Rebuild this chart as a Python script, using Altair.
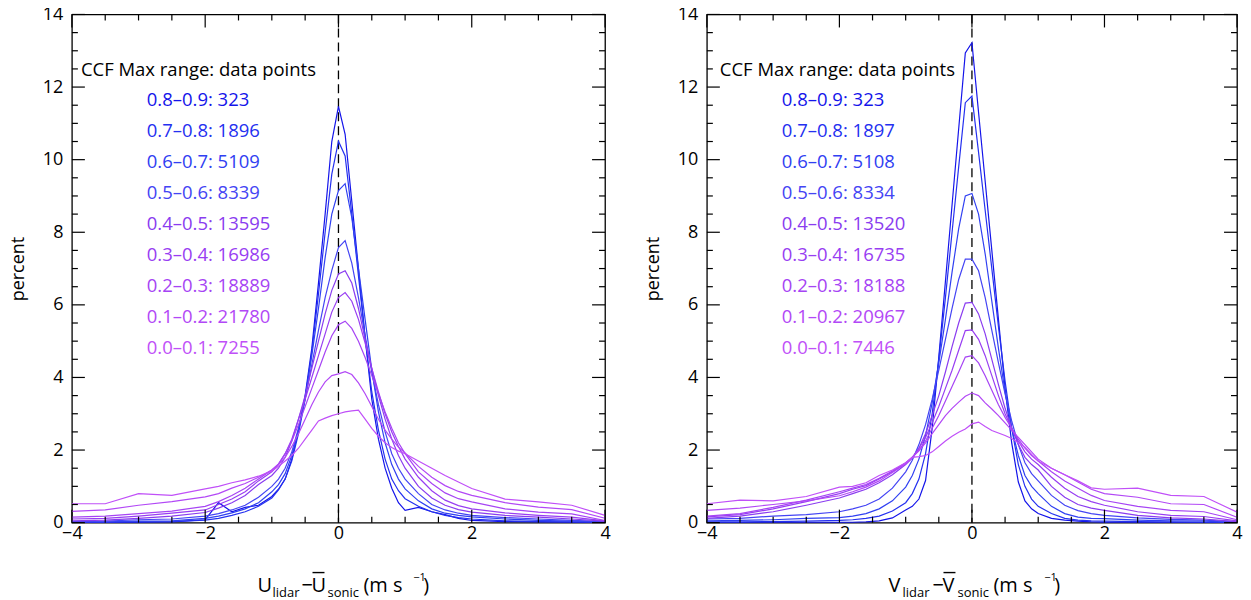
import altair as alt
import pandas as pd

FONT = "Open Sans"

# shared x grid (m s^-1)
X = [-4.0, -3.5, -3.0, -2.5, -2.0, -1.8, -1.6, -1.4, -1.2, -1.0, -0.9, -0.8, -0.7, -0.6, -0.5,
     -0.4, -0.3, -0.2, -0.1, 0.0, 0.1, 0.2, 0.3, 0.4, 0.5, 0.6, 0.7, 0.8, 0.9, 1.0,
     1.2, 1.4, 1.6, 1.8, 2.0, 2.5, 3.0, 3.5, 4.0]

RANGES = ["0.8–0.9", "0.7–0.8", "0.6–0.7", "0.5–0.6", "0.4–0.5",
          "0.3–0.4", "0.2–0.3", "0.1–0.2", "0.0–0.1"]
COUNTS_U = [323, 1896, 5109, 8339, 13595, 16986, 18889, 21780, 7255]
COUNTS_V = [323, 1897, 5108, 8334, 13520, 16735, 18188, 20967, 7446]
COLORS = ["#1414ea", "#2430f0", "#3040f2", "#4444f4", "#8a3cf0",
          "#983ef2", "#a644f4", "#b248f6", "#c050f8"]

# U panel (percent)
U_08 = [0.0, 0.0, 0.01, 0.02, 0.08, 0.55, 0.3, 0.42, 0.48, 0.72, 0.92, 1.2, 1.75, 2.55, 3.5,
        4.8, 6.6, 8.5, 10.5, 11.47, 10.7, 8.85, 7.0, 5.1, 3.4, 2.3, 1.5, 0.95, 0.55, 0.34,
        0.42, 0.3, 0.22, 0.12, 0.06, 0.03, 0.02, 0.01, 0.0]
U_07 = [0.01, 0.01, 0.02, 0.03, 0.07, 0.12, 0.2, 0.3, 0.45, 0.68, 0.9, 1.2, 1.7, 2.45, 3.4,
        4.7, 6.3, 8.0, 9.6, 10.51, 10.1, 8.5, 6.8, 5.1, 3.6, 2.55, 1.75, 1.2, 0.88, 0.66,
        0.45, 0.3, 0.2, 0.14, 0.1, 0.05, 0.03, 0.02, 0.01]
U_06 = [0.02, 0.02, 0.04, 0.05, 0.12, 0.18, 0.27, 0.38, 0.55, 0.85, 1.05, 1.35, 1.85, 2.55, 3.45,
        4.6, 5.9, 7.3, 8.5, 9.15, 9.34, 8.4, 7.0, 5.6, 4.2, 3.05, 2.2, 1.6, 1.2, 0.93,
        0.6, 0.38, 0.26, 0.2, 0.16, 0.1, 0.06, 0.04, 0.02]
U_05 = [0.03, 0.04, 0.08, 0.1, 0.18, 0.25, 0.35, 0.48, 0.7, 1.0, 1.2, 1.5, 1.95, 2.6, 3.4,
        4.35, 5.3, 6.2, 6.95, 7.58, 7.77, 7.15, 6.2, 5.15, 4.15, 3.25, 2.5, 1.9, 1.5, 1.2,
        0.8, 0.5, 0.35, 0.26, 0.2, 0.14, 0.1, 0.06, 0.03]
U_04 = [0.05, 0.07, 0.12, 0.18, 0.28, 0.4, 0.55, 0.75, 1.05, 1.3, 1.5, 1.8, 2.25, 2.85, 3.5,
        4.25, 5.0, 5.75, 6.4, 6.85, 6.94, 6.6, 5.9, 5.05, 4.25, 3.5, 2.85, 2.3, 1.85, 1.5,
        1.0, 0.68, 0.48, 0.36, 0.29, 0.2, 0.15, 0.1, 0.04]
U_03 = [0.1, 0.12, 0.18, 0.26, 0.35, 0.5, 0.65, 0.85, 1.15, 1.4, 1.6, 1.9, 2.3, 2.85, 3.4,
        4.0, 4.6, 5.2, 5.8, 6.2, 6.34, 6.1, 5.6, 4.95, 4.25, 3.6, 3.0, 2.5, 2.1, 1.75,
        1.25, 0.88, 0.62, 0.47, 0.38, 0.27, 0.2, 0.15, 0.05]
U_02 = [0.15, 0.18, 0.25, 0.32, 0.45, 0.58, 0.75, 0.95, 1.2, 1.45, 1.62, 1.9, 2.25, 2.7, 3.2,
        3.7, 4.2, 4.7, 5.15, 5.45, 5.55, 5.35, 5.0, 4.55, 4.05, 3.55, 3.05, 2.6, 2.2, 1.9,
        1.4, 1.08, 0.82, 0.66, 0.57, 0.38, 0.29, 0.24, 0.06]
U_01 = [0.31, 0.35, 0.48, 0.58, 0.71, 0.8, 0.95, 1.08, 1.25, 1.45, 1.6, 1.8, 2.1, 2.45, 2.85,
        3.25, 3.6, 3.88, 4.05, 4.1, 4.16, 4.08, 3.85, 3.55, 3.2, 2.85, 2.55, 2.3, 2.08, 1.92,
        1.55, 1.25, 1.02, 0.86, 0.75, 0.55, 0.43, 0.36, 0.12]
U_00 = [0.52, 0.52, 0.8, 0.75, 0.93, 1.0, 1.1, 1.18, 1.28, 1.42, 1.55, 1.7, 1.85, 2.05, 2.3,
        2.55, 2.8, 2.88, 2.95, 3.0, 3.05, 3.08, 3.1, 2.85, 2.6, 2.38, 2.2, 2.07, 1.97, 1.9,
        1.7, 1.5, 1.3, 1.12, 0.94, 0.65, 0.57, 0.48, 0.2]

# V panel (percent)
V_08 = [0.0, 0.0, 0.0, 0.01, 0.01, 0.01, 0.02, 0.05, 0.13, 0.35, 0.45, 0.65, 1.16, 2.6, 4.56,
        6.65, 8.75, 10.85, 12.94, 13.22, 11.3, 9.4, 7.5, 5.6, 3.7, 2.2, 1.12, 0.6, 0.38, 0.25,
        0.12, 0.07, 0.04, 0.02, 0.01, 0.0, 0.0, 0.0, 0.0]
V_07 = [0.02, 0.02, 0.03, 0.04, 0.06, 0.08, 0.12, 0.18, 0.32, 0.55, 0.8, 1.2, 1.9, 3.0, 4.5,
        6.2, 8.0, 9.8, 11.57, 11.75, 10.2, 8.6, 7.0, 5.4, 3.9, 2.6, 1.6, 1.0, 0.65, 0.45,
        0.25, 0.12, 0.07, 0.05, 0.04, 0.03, 0.02, 0.01, 0.0]
V_06 = [0.05, 0.06, 0.08, 0.12, 0.14, 0.18, 0.25, 0.38, 0.6, 0.98, 1.3, 1.75, 2.4, 3.3, 4.4,
        5.6, 6.9, 8.1, 9.0, 9.07, 8.5, 7.4, 6.1, 4.8, 3.6, 2.6, 1.85, 1.3, 1.0, 0.8,
        0.45, 0.25, 0.15, 0.12, 0.11, 0.07, 0.05, 0.04, 0.01]
V_05 = [0.1, 0.12, 0.18, 0.22, 0.3, 0.38, 0.48, 0.65, 0.95, 1.4, 1.72, 2.15, 2.7, 3.4, 4.2,
        5.05, 5.9, 6.7, 7.26, 7.26, 6.94, 6.2, 5.3, 4.4, 3.55, 2.8, 2.15, 1.65, 1.35, 1.15,
        0.75, 0.48, 0.33, 0.25, 0.2, 0.13, 0.09, 0.07, 0.02]
V_04 = [0.12, 0.18, 0.3, 0.48, 0.68, 0.8, 0.92, 1.1, 1.32, 1.6, 1.78, 2.05, 2.45, 2.95, 3.5,
        4.15, 4.85, 5.5, 6.05, 6.07, 5.75, 5.2, 4.5, 3.8, 3.15, 2.6, 2.15, 1.8, 1.6, 1.45,
        1.0, 0.7, 0.5, 0.4, 0.34, 0.2, 0.13, 0.1, 0.03]
V_03 = [0.16, 0.22, 0.38, 0.58, 0.8, 0.92, 1.02, 1.2, 1.4, 1.63, 1.8, 2.05, 2.35, 2.75, 3.2,
        3.7, 4.2, 4.75, 5.29, 5.31, 5.05, 4.6, 4.05, 3.5, 3.0, 2.6, 2.25, 1.95, 1.75, 1.6,
        1.25, 0.95, 0.72, 0.58, 0.48, 0.3, 0.2, 0.17, 0.05]
V_02 = [0.18, 0.25, 0.42, 0.62, 0.85, 0.95, 1.05, 1.22, 1.42, 1.65, 1.8, 2.0, 2.25, 2.6, 2.95,
        3.35, 3.75, 4.15, 4.56, 4.6, 4.4, 4.05, 3.65, 3.25, 2.9, 2.6, 2.3, 2.05, 1.85, 1.7,
        1.4, 1.15, 0.95, 0.75, 0.61, 0.45, 0.34, 0.3, 0.08]
V_01 = [0.34, 0.4, 0.5, 0.6, 0.74, 0.85, 0.98, 1.15, 1.38, 1.62, 1.8, 1.98, 2.2, 2.45, 2.7,
        2.95, 3.15, 3.32, 3.48, 3.57, 3.5, 3.3, 3.13, 2.95, 2.75, 2.55, 2.35, 2.15, 1.95, 1.75,
        1.5, 1.32, 1.12, 0.92, 0.8, 0.7, 0.52, 0.5, 0.15]
V_00 = [0.52, 0.62, 0.6, 0.72, 0.98, 1.0, 1.1, 1.3, 1.45, 1.65, 1.8, 1.82, 1.85, 1.95, 2.1,
        2.25, 2.38, 2.49, 2.58, 2.72, 2.77, 2.65, 2.54, 2.47, 2.4, 2.32, 2.2, 2.08, 1.88, 1.7,
        1.5, 1.32, 1.15, 0.96, 0.92, 0.95, 0.75, 0.72, 0.29]

U_SERIES = [U_08, U_07, U_06, U_05, U_04, U_03, U_02, U_01, U_00]
V_SERIES = [V_08, V_07, V_06, V_05, V_04, V_03, V_02, V_01, V_00]

X_MAJOR = [-4, -2, 0, 2, 4]
X_MINOR = [-3.5, -3, -2.5, -1.5, -1, -0.5, 0.5, 1, 1.5, 2.5, 3, 3.5]
Y_MAJOR = [0, 2, 4, 6, 8, 10, 12, 14]
Y_MINOR = [v + d for v in [0, 2, 4, 6, 8, 10, 12] for d in (0.5, 1.0, 1.5)]

H = 509
MAJ, MIN = 13, 6
LEG = 18.5


def text_at(txt, x, y, size, color="black", align="left", baseline="alphabetic"):
    return alt.Chart(pd.DataFrame({"t": [txt]})).mark_text(
        align=align, baseline=baseline, font=FONT, fontSize=size, color=color
    ).encode(text="t:N", x=alt.value(x), y=alt.value(y))


def panel(series, counts, letter, head_x, title_pos, W):
    rows = []
    for name, vals in zip(RANGES, series):
        for xv, yv in zip(X, vals):
            rows.append({"x": xv, "y": yv, "s": name})
    df = pd.DataFrame(rows)

    xs = alt.Scale(domain=[-4, 4], nice=False, zero=False)
    ys = alt.Scale(domain=[0, 14], nice=False, zero=False)

    xaxis = alt.Axis(values=X_MAJOR, format="d", title=None, ticks=False, domain=False,
                     grid=False, labelFont=FONT, labelFontSize=18, labelColor="black",
                     labelPadding=2, labelFlush=False)
    yaxis = alt.Axis(values=Y_MAJOR, format="d", title="percent", ticks=False, domain=False,
                     grid=False, labelFont=FONT, labelFontSize=18, labelColor="black",
                     labelPadding=9, titleFont=FONT, titleFontSize=18,
                     titleFontWeight="normal", titleColor="black", titlePadding=15)

    lines = alt.Chart(df).mark_line(strokeWidth=1.2, clip=True).encode(
        x=alt.X("x:Q", scale=xs, axis=xaxis),
        y=alt.Y("y:Q", scale=ys, axis=yaxis),
        color=alt.Color("s:N", scale=alt.Scale(domain=RANGES, range=COLORS), legend=None),
        order=alt.Order("x:Q"),
    )

    zero = alt.Chart(pd.DataFrame({"x": [0]})).mark_rule(
        color="black", strokeDash=[9, 5], strokeWidth=1.3
    ).encode(x=alt.X("x:Q", scale=xs))

    layers = [zero, lines]

    for vals, ln in ((X_MAJOR, MAJ), (X_MINOR, MIN)):
        d = pd.DataFrame({"v": vals})
        layers.append(alt.Chart(d).mark_rule(color="black", strokeWidth=1.2).encode(
            x=alt.X("v:Q", scale=xs), y=alt.value(H), y2=alt.value(H - ln)))
        layers.append(alt.Chart(d).mark_rule(color="black", strokeWidth=1.2).encode(
            x=alt.X("v:Q", scale=xs), y=alt.value(0), y2=alt.value(ln)))
    for vals, ln in ((Y_MAJOR, MAJ), (Y_MINOR, MIN)):
        d = pd.DataFrame({"v": vals})
        layers.append(alt.Chart(d).mark_rule(color="black", strokeWidth=1.2).encode(
            y=alt.Y("v:Q", scale=ys), x=alt.value(0), x2=alt.value(ln)))
        layers.append(alt.Chart(d).mark_rule(color="black", strokeWidth=1.2).encode(
            y=alt.Y("v:Q", scale=ys), x=alt.value(W), x2=alt.value(W - ln)))

    layers.append(text_at("CCF Max range: data points", head_x, 56, LEG, baseline="middle"))
    for i, (r, c) in enumerate(zip(RANGES, counts)):
        layers.append(text_at(f"{r}: {c}", 75, 86 + 31 * i, LEG, color=COLORS[i],
                              baseline="middle"))

    # x-axis title built from pieces (subscripts / overline / superscript)
    p = title_pos
    by = 578
    layers.append(text_at(letter, p[0], by, 20))
    layers.append(text_at("lidar", p[1], by + 5, 13))
    layers.append(text_at("−", p[2], by, 20))
    layers.append(text_at(letter, p[3], by, 20))
    layers.append(alt.Chart(pd.DataFrame({"a": [0]})).mark_rule(color="black", strokeWidth=1.4)
                  .encode(x=alt.value(p[3] + 1), x2=alt.value(p[3] + 13), y=alt.value(by - 19)))
    layers.append(text_at("sonic", p[4], by + 5, 13))
    layers.append(text_at("(m s", p[5], by, 20))
    layers.append(text_at("−1", p[6], by - 11, 11))
    layers.append(text_at(")", p[7], by, 20))

    return alt.layer(*layers).properties(width=W, height=H)


left = panel(U_SERIES, COUNTS_U, "U", 9, [186, 201, 230, 240, 256, 292, 342, 352], 534)
right = panel(V_SERIES, COUNTS_V, "V", 13, [182, 196, 226, 236, 251, 287, 338, 348], 531)

chart = alt.hconcat(left, right, spacing=32).properties(
    padding={"left": 0, "top": -4, "right": 0, "bottom": 0}
).configure_view(stroke="black", strokeWidth=1.3)

chart.save("out.html", embed_options={"renderer": "svg", "actions": False})
